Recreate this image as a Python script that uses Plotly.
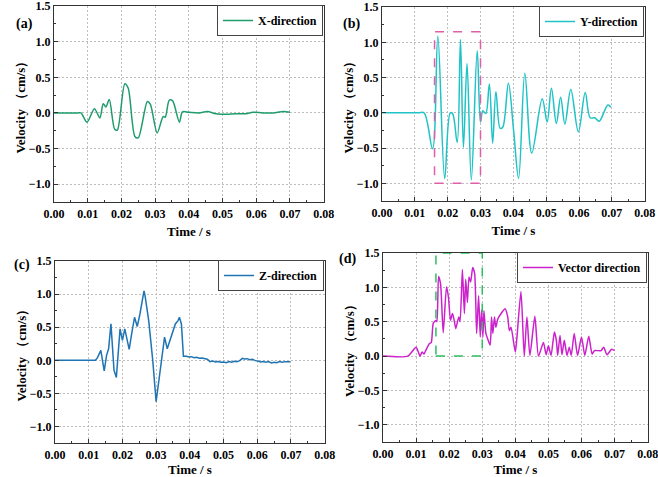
import plotly.graph_objects as go

# (a) X-direction
t_x = [0, 0.0070, 0.0080, 0.0098, 0.0120, 0.0136, 0.0146, 0.0154, 0.0164, 0.0180, 0.0188,
       0.0210, 0.0220, 0.0240, 0.0250, 0.0277, 0.0286, 0.0306, 0.0324, 0.0330, 0.0342,
       0.0352, 0.0372, 0.0381, 0.0400, 0.0430, 0.0455, 0.0480, 0.0510, 0.0540, 0.0570,
       0.0590, 0.0620, 0.0650, 0.0680, 0.0700]
v_x = [0, 0, 0, -0.13, 0.06, -0.07, 0.13, 0.085, 0.19, -0.23, -0.24,
       0.41, 0.35, -0.33, -0.35, 0.16, 0.12, -0.28, -0.05, -0.06, 0.18,
       0.17, -0.13, 0.015, 0.01, 0.0, 0.02, -0.01, -0.02, -0.01, -0.01,
       0.01, 0.0, 0.0, 0.02, 0.01]

# (b) Y-direction
t_y = [0, 0.0110, 0.0128, 0.0154, 0.0170, 0.0191, 0.0208, 0.0215, 0.0229, 0.0239, 0.0248,
       0.0259, 0.0272, 0.0290, 0.0300, 0.0307, 0.0316, 0.0327, 0.0337, 0.0347, 0.0360,
       0.0368, 0.0385, 0.0401, 0.0416, 0.0435, 0.0456, 0.0488, 0.0503, 0.0516, 0.0531,
       0.0544, 0.0557, 0.0575, 0.0598, 0.0619, 0.0634, 0.0648, 0.0661, 0.0688, 0.0697]
v_y = [0, 0, 0, -0.51, 1.09, -0.93, 0.0, -0.01, -0.42, 1.04, -0.49,
       0.70, -0.95, 0.88, -0.13, 0.03, -0.01, 0.41, -0.43, 0.30, -0.22,
       -0.20, 0.42, -0.26, -0.93, 0.56, -0.57, 0.20, -0.13, 0.35, -0.15,
       0.22, -0.16, 0.33, -0.27, 0.29, -0.07, -0.07, -0.12, 0.11, 0.08]

# (c) Z-direction
t_z = [0, 0.0120, 0.0126, 0.0136, 0.0146, 0.0153, 0.0159, 0.0166, 0.0175, 0.0182,
       0.0193, 0.0200, 0.0207, 0.0213, 0.0220, 0.0229, 0.0236, 0.0244, 0.0252, 0.0264,
       0.0267, 0.0278, 0.0290, 0.0300, 0.0310, 0.0318, 0.0325, 0.0333, 0.0345, 0.0357,
       0.0365, 0.0369, 0.0375, 0.0381, 0.0390, 0.0398, 0.0405, 0.0412, 0.0420, 0.0428,
       0.0436, 0.0444, 0.0452, 0.0460, 0.0468, 0.0476, 0.0484, 0.0492, 0.0500, 0.0508,
       0.0516, 0.0524, 0.0532, 0.0540, 0.0548, 0.0556, 0.0562, 0.0570, 0.0578, 0.0586,
       0.0594, 0.0602, 0.0610, 0.0618, 0.0626, 0.0634, 0.0642, 0.0650, 0.0658, 0.0666,
       0.0674, 0.0682, 0.0690, 0.0698]
v_z = [0, 0, 0.04, 0.15, -0.16, 0.075, 0.175, 0.55, -0.15, -0.26,
       0.475, 0.30, 0.475, 0.35, 0.165, 0.45, 0.65, 0.51, 0.70, 1.05,
       0.98, 0.60, 0.0, -0.625, -0.25, 0.025, 0.35, 0.175, 0.35, 0.55,
       0.60, 0.65, 0.55, 0.06, 0.06, 0.05, 0.055, 0.04, 0.045, 0.03,
       0.035, 0.02, 0.015, -0.02, -0.01, -0.025, -0.02, -0.03, -0.025, -0.035,
       -0.02, -0.03, -0.015, -0.02, -0.005, 0.03, 0.02, 0.025, 0.01, 0.015,
       -0.005, -0.01, -0.025, -0.02, -0.03, -0.02, -0.04, -0.03, -0.035, -0.02,
       -0.03, -0.02, -0.025, -0.02]

# (d) Vector direction
t_v = [0, 0.0075, 0.0100, 0.0112, 0.0118, 0.0124, 0.0130, 0.0140, 0.0146, 0.0152,
       0.0160, 0.0163, 0.0168, 0.0174, 0.0182, 0.0192, 0.0198, 0.0204, 0.0210, 0.0216,
       0.0220, 0.0229, 0.0233, 0.0240, 0.0246, 0.0250, 0.0255, 0.0260, 0.0265, 0.0271,
       0.0277, 0.0283, 0.0289, 0.0294, 0.0298, 0.0302, 0.0305, 0.0311, 0.0318, 0.0324,
       0.0328, 0.0332, 0.0337, 0.0341, 0.0347, 0.0357, 0.0369, 0.0377, 0.0382, 0.0387,
       0.0400, 0.0405, 0.0417, 0.0427, 0.0435, 0.0444, 0.0459, 0.0470, 0.0485, 0.0493,
       0.0500, 0.0508, 0.0518, 0.0524, 0.0528, 0.0535, 0.0541, 0.0548, 0.0556, 0.0563,
       0.0569, 0.0578, 0.0588, 0.0600, 0.0610, 0.0622, 0.0632, 0.0639, 0.0659, 0.0667,
       0.0677, 0.0691, 0.0700]
v_v = [0, 0, 0.13, 0.0, 0.06, 0.03, 0.09, 0.18, 0.20, 0.48,
       0.52, 0.50, 1.16, 1.05, 0.34, 1.01, 0.85, 0.52, 0.62, 0.50,
       0.40, 0.57, 0.50, 1.26, 0.62, 1.12, 0.78, 1.15, 1.08, 1.29,
       1.20, 0.33, 0.88, 0.28, 0.67, 0.28, 0.66, 0.33, 0.23, 0.16,
       0.57, 0.33, 0.57, 0.42, 0.54, 0.62, 0.69, 0.57, 0.37, 0.42,
       0.06, 0.28, 0.94, 0.0, 0.57, 0.01, 0.58, 0.0, 0.20, 0.02,
       0.15, 0.01, 0.35, 0.23, 0.01, 0.30, 0.02, 0.23, 0.01, 0.13,
       0.01, 0.33, 0.01, 0.28, 0.01, 0.29, 0.03, 0.08, 0.08, 0.13,
       0.02, 0.10, 0.08]

names = ["X-direction", "Y-direction", "Z-direction", "Vector direction"]
colors = ["#1e9c6c", "#1fc3c6", "#1f74b4", "#cc22cc"]
labels = ["(a)", "(b)", "(c)", "(d)"]

FONT = "Liberation Serif"
W, H = 658, 477

# plot-area boxes in pixels: left, right, top, bottom
boxes = [(54, 324, 6, 202), (382, 645, 7, 201), (55, 325, 261, 443), (383, 648, 253, 442)]
line_shapes = ["spline", "spline", "linear", "spline"]
smooth = [0.8, 1.0, 0, 0.6]

fig = go.Figure()
series = [(t_x, v_x), (t_y, v_y), (t_z, v_z), (t_v, v_v)]
for i, (t, v) in enumerate(series):
    n = "" if i == 0 else str(i + 1)
    line = dict(color=colors[i], width=1.5, shape=line_shapes[i])
    if line_shapes[i] == "spline":
        line["smoothing"] = smooth[i]
    fig.add_trace(go.Scatter(
        x=t, y=v, mode="lines", name=names[i], line=line, showlegend=True,
        xaxis="x" + n, yaxis="y" + n, legend="legend" + n,
    ))

tick_font = dict(family=FONT, size=12, color="black", weight="bold")
title_font = dict(family=FONT, size=13, color="black", weight="bold")
layout = dict(width=W, height=H, margin=dict(l=0, r=0, t=0, b=0, autoexpand=False),
              showlegend=True,
              plot_bgcolor="white", paper_bgcolor="white", shapes=[], annotations=[])

for i, (l, r, t, b) in enumerate(boxes):
    n = "" if i == 0 else str(i + 1)
    xa = dict(domain=[l / W, r / W], range=[0, 0.0801], dtick=0.01, tickformat=".2f",
              showline=True, linecolor="#333", linewidth=1.2, mirror=True,
              ticks="inside", ticklen=4, tickcolor="#333",
              minor=dict(ticks="inside", ticklen=2, dtick=0.005, tickcolor="#333"),
              showgrid=True, gridcolor="#bdbdbd", griddash="2px,2px", gridwidth=1,
              zeroline=False, tickfont=tick_font, automargin=False, ticklabeloverflow="allow",
              title=dict(text="Time / s", font=title_font, standoff=7),
              anchor="y" + n)
    ya = dict(domain=[1 - b / H, 1 - t / H], range=[-1.25, 1.501], dtick=0.5, tickformat=".1f",
              showline=True, linecolor="#333", linewidth=1.2, mirror=True,
              ticks="inside", ticklen=4, tickcolor="#333",
              minor=dict(ticks="inside", ticklen=2, dtick=0.25, tickcolor="#333"),
              showgrid=True, gridcolor="#bdbdbd", griddash="2px,2px", gridwidth=1,
              zeroline=False, tickfont=tick_font, automargin=False, ticklabeloverflow="allow",
              title=dict(text="Velocity （cm/s）", font=title_font, standoff=0),
              anchor="x" + n)
    layout["xaxis" + n] = xa
    layout["yaxis" + n] = ya
    layout["legend" + n] = dict(x=(r - 1) / W, y=1 - (t - 1) / H, xanchor="right", yanchor="top",
                                bgcolor="white", bordercolor="#444", borderwidth=1,
                                font=dict(family=FONT, size=12, color="black", weight="bold"),
                                itemwidth=30, tracegroupgap=0)

# panel labels
label_pos = [(14, 14), (351, 14), (12, 265), (347, 259)]
for lab, (px, py) in zip(labels, label_pos):
    layout["annotations"].append(dict(
        text=lab, x=px / W, y=1 - py / H, xref="paper", yref="paper",
        showarrow=False, font=dict(family=FONT, size=14, color="black", weight="bold")))

# dashed highlight boxes
layout["shapes"].append(dict(type="rect", xref="x2", yref="y2", x0=0.016, x1=0.030,
                             y0=-1.0, y1=1.15, line=dict(color="#e060a8", width=1.5, dash="dash")))
layout["shapes"].append(dict(type="rect", xref="x4", yref="y4", x0=0.016, x1=0.030,
                             y0=0.0, y1=1.5, line=dict(color="#2fbf5f", width=1.5, dash="dash")))

fig.update_layout(**layout)
fig.write_html("out.html", config={"displayModeBar": False},
               post_script="document.body.style.margin='0px';")
